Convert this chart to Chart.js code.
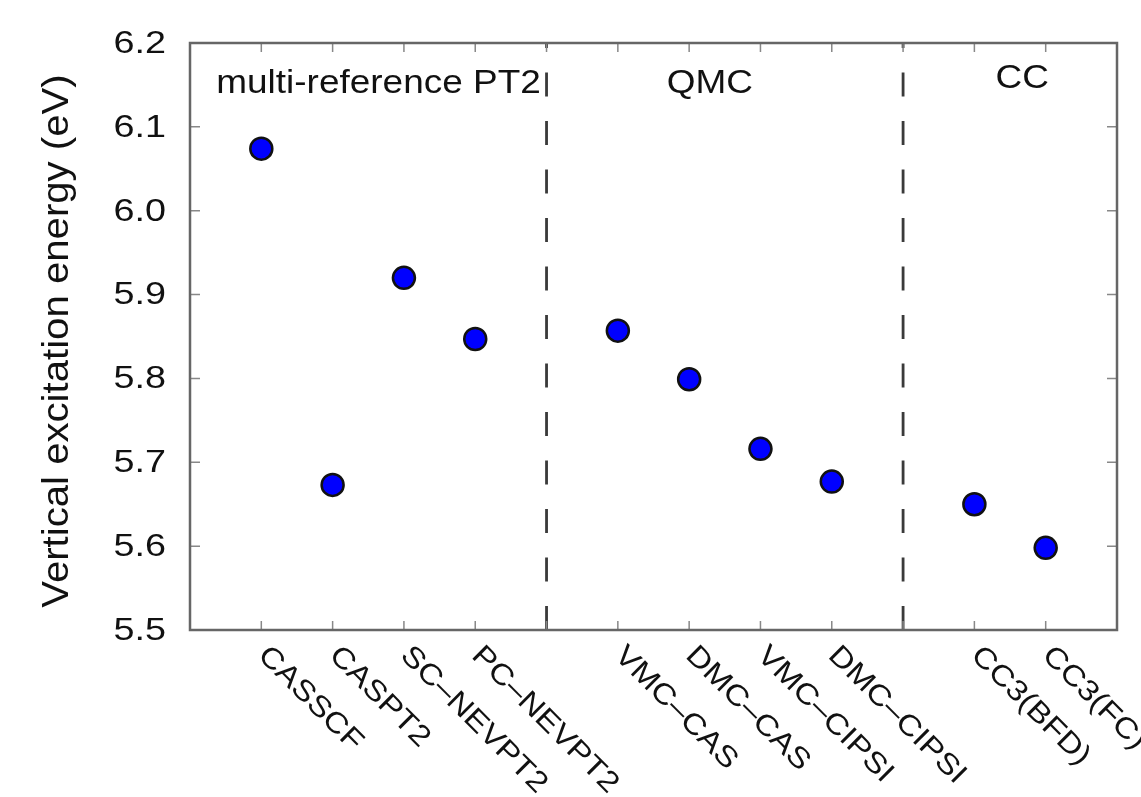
<!DOCTYPE html>
<html lang="en">
<head>
    <meta charset="UTF-8">
    <script src="https://cdn.jsdelivr.net/npm/chart.js"></script>
    <title>Vertical excitation energies</title>
    <style>
        body { margin: 0; background: #fff; }
        canvas { display: block; }
    </style>
</head>
<body>
    <canvas id="myChart" width="1141" height="797"></canvas>
    <script>
        // methods and their position along x (gaps at 5 and 10 separate the groups)
        const methods = ['CASSCF', 'CASPT2', 'SC–NEVPT2', 'PC–NEVPT2',
                         'VMC–CAS', 'DMC–CAS', 'VMC–CIPSI', 'DMC–CIPSI',
                         'CC3(BFD)', 'CC3(FC)'];
        const xPos = [1, 2, 3, 4, 6, 7, 8, 9, 11, 12];
        const energies = [6.074, 5.673, 5.920, 5.847, 5.857, 5.799, 5.716, 5.677, 5.650, 5.598];

        const yTicks = [5.5, 5.6, 5.7, 5.8, 5.9, 6.0, 6.1, 6.2];
        const dividers = [5, 10];
        const groups = ['multi-reference PT2', 'QMC', 'CC'];
        const groupX = [2.644, 7.29, 11.67];

        const FONT = '"Liberation Sans", Arial, Helvetica, sans-serif';

        // text is drawn a little wider than the font's natural width
        function drawText(ctx, txt, x, y, size, align, baseline, angle, sx) {
            ctx.save();
            ctx.translate(x, y);
            if (angle) ctx.rotate(angle);
            ctx.scale(sx, 1);
            ctx.font = size + 'px ' + FONT;
            ctx.textAlign = align;
            ctx.textBaseline = baseline;
            ctx.fillText(txt, 0, 0);
            ctx.restore();
        }

        const framePlugin = {
            id: 'frame',
            beforeDraw(chart) {
                const ctx = chart.ctx;
                ctx.save();
                ctx.fillStyle = '#fff';
                ctx.fillRect(0, 0, chart.width, chart.height);
                ctx.restore();
            },
            beforeDatasetsDraw(chart) {
                const {ctx, chartArea: a, scales: {x, y}} = chart;
                ctx.save();

                // group separators, dashes counted from the bottom
                ctx.strokeStyle = '#3a3a3a';
                ctx.lineWidth = 2.8;
                ctx.setLineDash([24, 24.5]);
                dividers.forEach(d => {
                    const px = x.getPixelForValue(d);
                    ctx.beginPath();
                    ctx.moveTo(px, a.bottom);
                    ctx.lineTo(px, a.top);
                    ctx.stroke();
                });
                ctx.setLineDash([]);

                // inward ticks
                ctx.strokeStyle = '#888';
                ctx.lineWidth = 1.5;
                ctx.beginPath();
                for (let i = 1; i <= 12; i++) {
                    const px = x.getPixelForValue(i);
                    ctx.moveTo(px, a.bottom); ctx.lineTo(px, a.bottom - 9);
                    ctx.moveTo(px, a.top); ctx.lineTo(px, a.top + 9);
                }
                yTicks.slice(1, -1).forEach(v => {
                    const py = y.getPixelForValue(v);
                    ctx.moveTo(a.left, py); ctx.lineTo(a.left + 10, py);
                    ctx.moveTo(a.right, py); ctx.lineTo(a.right - 10, py);
                });
                ctx.stroke();

                // frame
                ctx.strokeStyle = '#666';
                ctx.lineWidth = 2.5;
                ctx.strokeRect(a.left, a.top, a.right - a.left, a.bottom - a.top);

                ctx.fillStyle = '#111';

                // y tick labels
                yTicks.forEach(v => {
                    drawText(ctx, v.toFixed(1), a.left - 24, y.getPixelForValue(v) + 1, 32, 'right', 'middle', 0, 1.18);
                });

                // y title
                drawText(ctx, 'Vertical excitation energy (eV)', 58, 341, 36.5, 'center', 'middle', -Math.PI / 2, 1.1);

                // method labels, slanted down to the right
                methods.forEach((m, i) => {
                    const px = x.getPixelForValue(xPos[i]);
                    drawText(ctx, m, px + 1, a.bottom + 21, 29, 'left', 'middle', Math.PI / 4, 1.15);
                });

                // group names
                groups.forEach((g, i) => {
                    const py = i === 2 ? a.top + 45 : a.top + 50;
                    drawText(ctx, g, x.getPixelForValue(groupX[i]), py, 33, 'center', 'alphabetic', 0, 1.12);
                });

                ctx.restore();
            }
        };

        const ctx = document.getElementById('myChart').getContext('2d');
        new Chart(ctx, {
            type: 'scatter',
            data: {
                datasets: [{
                    label: 'Vertical excitation energy',
                    data: energies.map((e, i) => ({x: xPos[i], y: e})),
                    backgroundColor: '#0000ff',
                    borderColor: '#111',
                    borderWidth: 2.5,
                    pointRadius: 11,
                    pointHoverRadius: 11
                }]
            },
            options: {
                responsive: false,
                animation: false,
                clip: false,
                layout: {
                    padding: {left: 190, top: 43, right: 24, bottom: 167}
                },
                scales: {
                    x: {type: 'linear', min: 0, max: 13, display: false},
                    y: {min: 5.5, max: 6.2, display: false}
                },
                plugins: {
                    legend: {display: false},
                    tooltip: {enabled: false}
                }
            },
            plugins: [framePlugin]
        });
    </script>
</body>
</html>
